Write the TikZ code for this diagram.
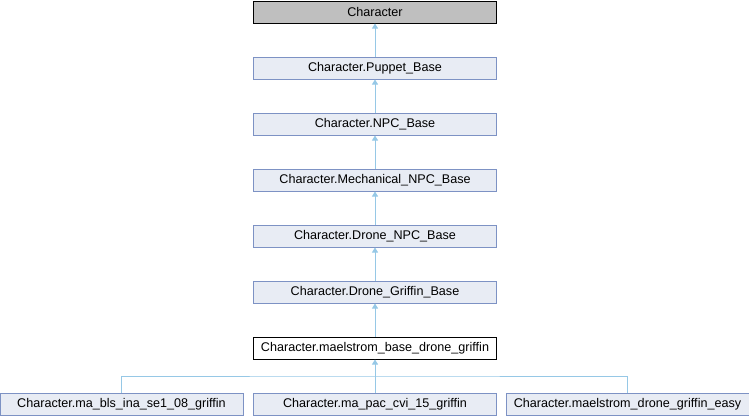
\documentclass[tikz,border=0pt]{standalone}
\usepackage{fontspec}
\setmainfont{Liberation Sans}
\usetikzlibrary{arrows.meta}
\definecolor{edgeblue}{RGB}{150,200,230}
\definecolor{boxfill}{RGB}{232,236,244}
\definecolor{boxline}{RGB}{125,146,196}
\definecolor{basefill}{RGB}{191,191,191}
\begin{document}
\begin{tikzpicture}[x=1pt,y=-1pt,
  cls/.style={draw=boxline,fill=boxfill,line width=1pt,minimum width=243pt,minimum height=22pt,inner sep=0pt,font=\fontsize{12.6}{14}\selectfont},
  rootcls/.style={cls,draw=black,fill=basefill},
  curcls/.style={cls,draw=black,fill=white},
  inherit/.style={draw=edgeblue,line width=1pt,{Triangle[length=5pt,width=6pt]}-}]
\useasboundingbox (0,0) rectangle (749,416);
\node[rootcls] (chr) at (375,12) {Character};
\node[cls] (pup) at (375,68) {Character.Puppet\_Base};
\node[cls] (npc) at (375,124) {Character.NPC\_Base};
\node[cls] (mech) at (375,180) {Character.Mechanical\_NPC\_Base};
\node[cls] (drn) at (375,236) {Character.Drone\_NPC\_Base};
\node[cls] (grf) at (375,292) {Character.Drone\_Griffin\_Base};
\node[curcls] (mbdg) at (375,348) {Character.maelstrom\_base\_drone\_griffin};
\node[cls] (bls) at (121.5,404) {Character.ma\_bls\_ina\_se1\_08\_griffin};
\node[cls] (pac) at (375,404) {Character.ma\_pac\_cvi\_15\_griffin};
\node[cls] (easy) at (627.5,404) {Character.maelstrom\_drone\_griffin\_easy};
\coordinate (bus) at (375,376);
\draw[inherit] (chr) -- (pup);
\draw[inherit] (pup) -- (npc);
\draw[inherit] (npc) -- (mech);
\draw[inherit] (mech) -- (drn);
\draw[inherit] (drn) -- (grf);
\draw[inherit] (grf) -- (mbdg);
\draw[inherit] (mbdg) -- (pac);
\draw[draw=edgeblue,line width=1pt] (bls.north) |- (bus) -| (easy.north);
\end{tikzpicture}
\end{document}
